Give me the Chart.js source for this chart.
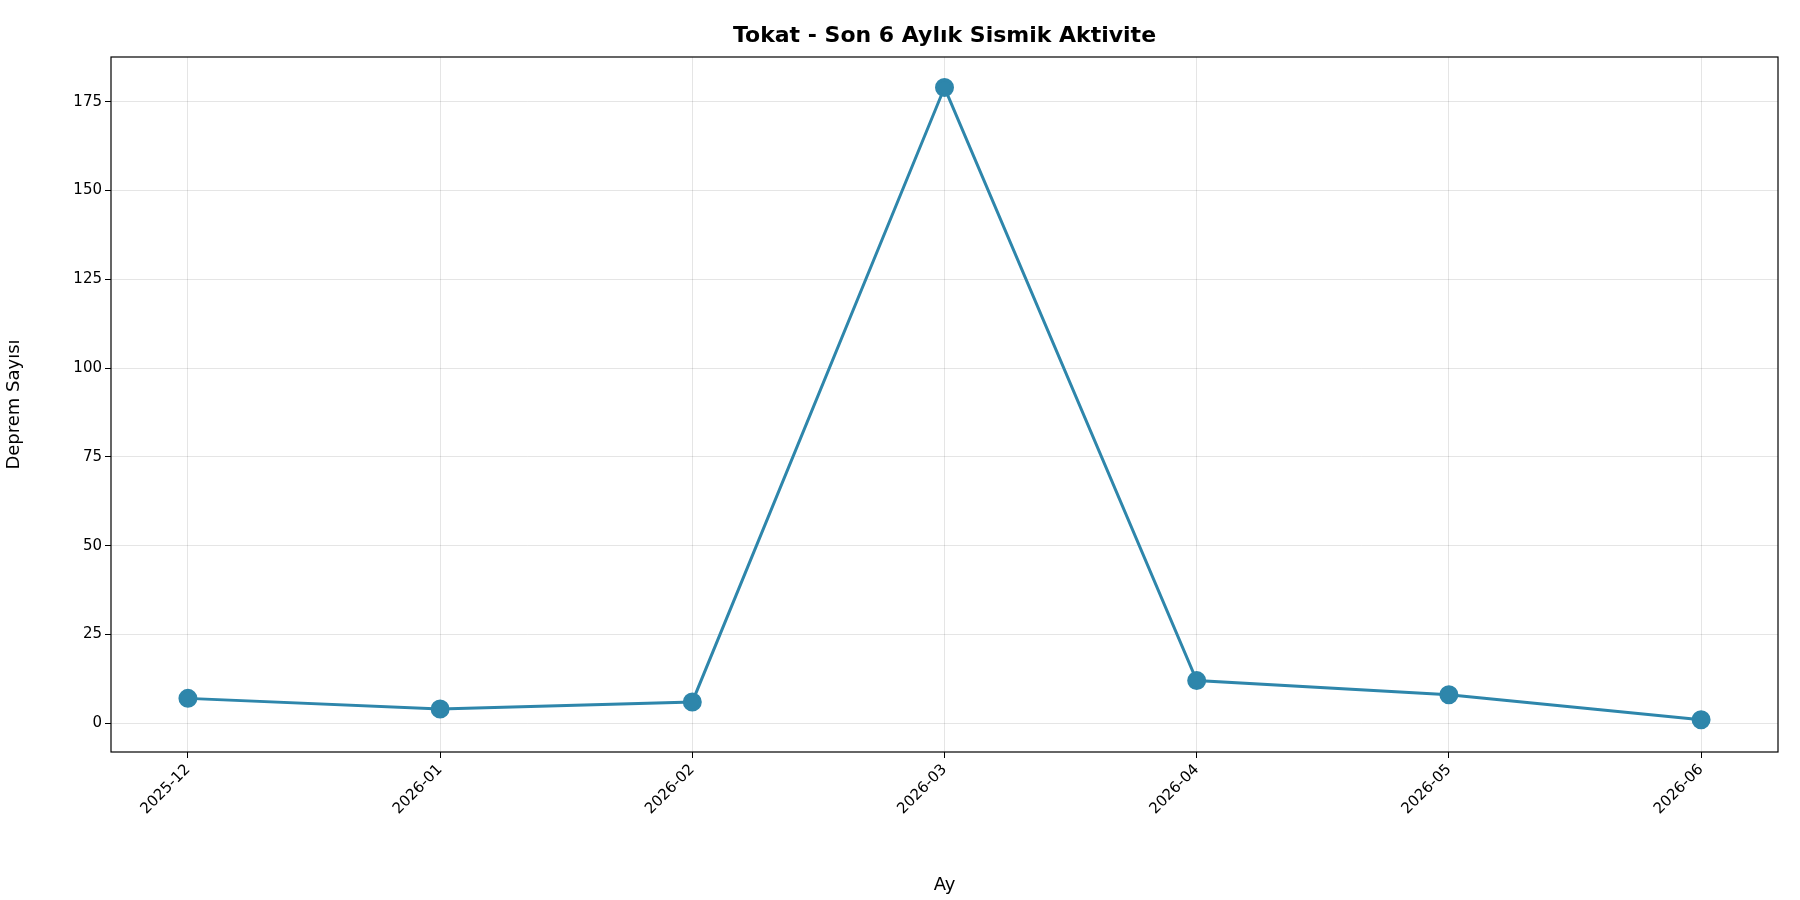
<!DOCTYPE html>
<html>
<head>
<meta charset="utf-8">
<script src="https://cdn.jsdelivr.net/npm/chart.js@4"></script>
<style>
  body { margin: 0; background: #fff; }
</style>
</head>
<body>
<canvas id="grafico" width="1800" height="900"></canvas>
<script>
const aylar = ['2025-12', '2026-01', '2026-02', '2026-03', '2026-04', '2026-05', '2026-06'];
const depremSayilari = [7, 4, 6, 179, 12, 8, 1];
const yTicks = [0, 25, 50, 75, 100, 125, 150, 175];
const renk = '#2E86AB';

const fontAile = '"DejaVu Sans", sans-serif';

// cerceve ve baslik
const cerceve = {
    id: 'cerceve',
    afterDraw(chart) {
        const { ctx, chartArea: a } = chart;
        ctx.save();
        ctx.strokeStyle = '#000';
        ctx.lineWidth = 1.2;
        ctx.strokeRect(a.left, a.top, a.right - a.left, a.bottom - a.top);
        ctx.fillStyle = '#000';
        ctx.font = 'bold 22px ' + fontAile;
        ctx.textAlign = 'center';
        ctx.textBaseline = 'middle';
        ctx.fillText('Tokat - Son 6 Aylık Sismik Aktivite', (a.left + a.right) / 2, 36);
        ctx.restore();
    }
};

new Chart(document.getElementById('grafico'), {
    type: 'line',
    data: {
        datasets: [{
            data: depremSayilari.map((v, i) => ({ x: i, y: v })),
            borderColor: renk,
            backgroundColor: renk,
            borderWidth: 3,
            pointRadius: 8,
            pointHoverRadius: 8,
            tension: 0
        }]
    },
    options: {
        responsive: false,
        animation: false,
        devicePixelRatio: 1,
        layout: { padding: { top: 57, right: 22 } },
        plugins: { legend: { display: false }, tooltip: { enabled: false } },
        scales: {
            x: {
                type: 'linear',
                min: -0.305,
                max: 6.305,
                afterBuildTicks(s) { s.ticks = aylar.map((_, i) => ({ value: i })); },
                afterFit(s) { s.height = 148; },
                ticks: {
                    autoSkip: false,
                    maxRotation: 45,
                    minRotation: 45,
                    color: '#000',
                    font: { size: 15, family: fontAile },
                    callback: v => aylar[v]
                },
                grid: { color: 'rgba(0,0,0,0.1)', tickColor: '#000', tickLength: 6 },
                border: { display: false },
                title: { display: true, text: 'Ay', color: '#000', font: { size: 18, family: fontAile } }
            },
            y: {
                min: -8.1,
                max: 187.6,
                afterBuildTicks(s) { s.ticks = yTicks.map(v => ({ value: v })); },
                afterFit(s) { s.width = 111; },
                ticks: { color: '#000', font: { size: 15, family: fontAile } },
                grid: { color: 'rgba(0,0,0,0.1)', tickColor: '#000', tickLength: 6 },
                border: { display: false },
                title: { display: true, text: 'Deprem Sayısı', color: '#000', font: { size: 18, family: fontAile } }
            }
        }
    },
    plugins: [cerceve]
});
</script>
</body>
</html>
